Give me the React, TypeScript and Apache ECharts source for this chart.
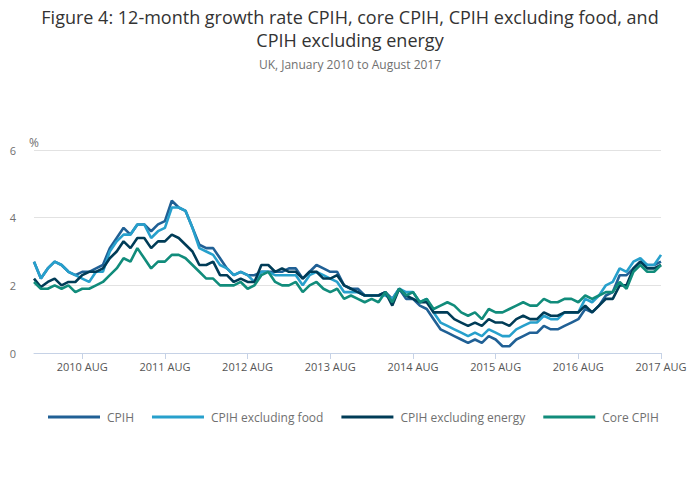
import React, { useEffect, useRef } from "react";
import * as echarts from "echarts";

const MONTHS = ["JAN", "FEB", "MAR", "APR", "MAY", "JUN", "JUL", "AUG", "SEP", "OCT", "NOV", "DEC"];
const categories: string[] = [];
for (let y = 2010; y <= 2017; y++) {
  for (let m = 0; m < 12; m++) {
    if (y === 2017 && m > 7) break;
    categories.push(`${y} ${MONTHS[m]}`);
  }
}

const cpih = [
  2.7, 2.2, 2.5, 2.7, 2.6, 2.4, 2.3, 2.4, 2.4, 2.5, 2.6, 3.1,
  3.4, 3.7, 3.5, 3.8, 3.8, 3.6, 3.8, 3.9, 4.5, 4.3, 4.2, 3.7,
  3.2, 3.1, 3.1, 2.8, 2.5, 2.3, 2.4, 2.3, 2.3, 2.4, 2.4, 2.4,
  2.4, 2.5, 2.5, 2.2, 2.4, 2.6, 2.5, 2.4, 2.4, 2.0, 1.9, 1.9,
  1.7, 1.7, 1.7, 1.8, 1.6, 1.9, 1.6, 1.6, 1.4, 1.3, 1.0, 0.7,
  0.6, 0.5, 0.4, 0.3, 0.4, 0.3, 0.5, 0.4, 0.2, 0.2, 0.4, 0.5,
  0.6, 0.6, 0.8, 0.7, 0.7, 0.8, 0.9, 1.0, 1.3, 1.2, 1.4, 1.7,
  1.8, 2.3, 2.3, 2.5, 2.7, 2.6, 2.6, 2.7,
];

const cpihExFood = [
  2.7, 2.2, 2.5, 2.7, 2.6, 2.4, 2.3, 2.2, 2.1, 2.4, 2.4, 3.0,
  3.3, 3.5, 3.5, 3.8, 3.8, 3.4, 3.6, 3.7, 4.3, 4.3, 4.2, 3.7,
  3.1, 3.0, 2.9, 2.6, 2.5, 2.3, 2.4, 2.3, 2.1, 2.4, 2.4, 2.3,
  2.3, 2.3, 2.3, 2.0, 2.3, 2.4, 2.3, 2.2, 2.1, 1.8, 1.8, 1.8,
  1.7, 1.7, 1.7, 1.7, 1.6, 1.9, 1.8, 1.8, 1.5, 1.6, 1.2, 0.9,
  0.8, 0.7, 0.6, 0.5, 0.6, 0.5, 0.7, 0.6, 0.5, 0.5, 0.7, 0.8,
  0.9, 0.9, 1.1, 1.0, 1.0, 1.2, 1.2, 1.2, 1.6, 1.5, 1.7, 2.0,
  2.1, 2.5, 2.4, 2.7, 2.8, 2.6, 2.6, 2.9,
];

const cpihExEnergy = [
  2.2, 1.95, 2.1, 2.2, 2.0, 2.1, 2.1, 2.3, 2.4, 2.4, 2.5, 2.8,
  3.0, 3.3, 3.1, 3.4, 3.4, 3.1, 3.3, 3.3, 3.5, 3.4, 3.2, 3.0,
  2.6, 2.6, 2.7, 2.3, 2.3, 2.1, 2.2, 2.1, 2.1, 2.6, 2.6, 2.4,
  2.5, 2.4, 2.4, 2.2, 2.4, 2.4, 2.2, 2.2, 2.3, 2.0, 1.9, 1.8,
  1.7, 1.7, 1.7, 1.8, 1.4, 1.9, 1.7, 1.6, 1.5, 1.5, 1.2, 1.2,
  1.2, 1.0, 0.9, 0.8, 0.9, 0.8, 1.0, 0.9, 0.9, 0.8, 1.0, 1.1,
  1.0, 1.0, 1.2, 1.1, 1.1, 1.2, 1.2, 1.2, 1.4, 1.2, 1.4, 1.6,
  1.6, 2.0, 2.0, 2.5, 2.7, 2.5, 2.5, 2.6,
];

const coreCpih = [
  2.1, 1.9, 1.9, 2.0, 1.9, 2.0, 1.8, 1.9, 1.9, 2.0, 2.1, 2.3,
  2.5, 2.8, 2.7, 3.1, 2.8, 2.5, 2.7, 2.7, 2.9, 2.9, 2.8, 2.6,
  2.4, 2.2, 2.2, 2.0, 2.0, 2.0, 2.1, 1.9, 2.0, 2.3, 2.4, 2.1,
  2.0, 2.0, 2.1, 1.8, 2.0, 2.1, 1.9, 1.8, 1.9, 1.6, 1.7, 1.6,
  1.5, 1.6, 1.5, 1.8, 1.5, 1.9, 1.7, 1.8, 1.5, 1.6, 1.3, 1.4,
  1.5, 1.4, 1.2, 1.1, 1.2, 1.0, 1.3, 1.2, 1.2, 1.3, 1.4, 1.5,
  1.4, 1.4, 1.6, 1.5, 1.5, 1.6, 1.6, 1.5, 1.7, 1.6, 1.7, 1.8,
  1.8, 2.1, 1.9, 2.4, 2.6, 2.4, 2.4, 2.6,
];

const yTicks = [0, 2, 4, 6];

const seriesDefs = [
  { name: "CPIH", data: cpih, color: "#206095" },
  { name: "CPIH excluding food", data: cpihExFood, color: "#27a0cc" },
  { name: "CPIH excluding energy", data: cpihExEnergy, color: "#003c57" },
  { name: "Core CPIH", data: coreCpih, color: "#118c7b" },
];

const FONT = "'Open Sans', 'Noto Sans', sans-serif";

export default function App() {
  const ref = useRef<HTMLDivElement>(null);

  useEffect(() => {
    document.body.style.margin = "0";
    if (!ref.current) return;
    const chart = echarts.init(ref.current, undefined, { renderer: "svg" });
    const isAug = (idx: number) => idx % 12 === 7;
    chart.setOption({
      animation: false,
      backgroundColor: "#ffffff",
      textStyle: { fontFamily: FONT },
      title: {
        text: "Figure 4: 12-month growth rate CPIH, core CPIH, CPIH excluding food, and\nCPIH excluding energy",
        subtext: "UK, January 2010 to August 2017",
        left: "center",
        top: 0,
        itemGap: 6,
        textStyle: { fontFamily: FONT, fontSize: 18, fontWeight: "normal", color: "#333333", lineHeight: 23 },
        subtextStyle: { fontFamily: FONT, fontSize: 12, color: "#707070", lineHeight: 14 },
      },
      graphic: [
        {
          type: "text",
          left: 29,
          top: 136,
          style: { text: "%", fontFamily: FONT, fontSize: 12, fill: "#707070" },
        },
      ],
      legend: {
        left: 43,
        top: 406,
        itemGap: 18,
        itemWidth: 52,
        itemHeight: 3,
        icon: "rect",
        textStyle: { fontFamily: FONT, fontSize: 12, color: "#707070", padding: [0, 0, 0, 2] },
        data: seriesDefs.map((s) => s.name),
      },
      grid: { left: 34, right: 39, top: 150, bottom: 149, containLabel: false },
      xAxis: {
        type: "category",
        data: categories,
        boundaryGap: false,
        axisLine: { lineStyle: { color: "#c6d2e6", width: 1 } },
        axisTick: { interval: (idx: number) => isAug(idx), length: 6, lineStyle: { color: "#c6d2e6" } },
        axisLabel: {
          interval: (idx: number) => isAug(idx),
          color: "#555555",
          fontSize: 11,
          fontFamily: FONT,
          margin: 8,
        },
        splitLine: { show: false },
      },
      yAxis: {
        type: "value",
        min: yTicks[0],
        max: yTicks[yTicks.length - 1],
        interval: 2,
        axisLine: { show: false },
        axisTick: { show: false },
        axisLabel: { color: "#707070", fontSize: 11, fontFamily: FONT, margin: 18 },
        splitLine: { lineStyle: { color: "#e2e2e2", width: 1 } },
      },
      series: seriesDefs.map((s) => ({
        name: s.name,
        type: "line",
        data: s.data,
        symbol: "none",
        showSymbol: false,
        lineStyle: { color: s.color, width: 2.6 },
        itemStyle: { color: s.color },
        emphasis: { disabled: true },
      })),
    });
    return () => chart.dispose();
  }, []);

  return <div ref={ref} style={{ width: 700, height: 502 }} />;
}
